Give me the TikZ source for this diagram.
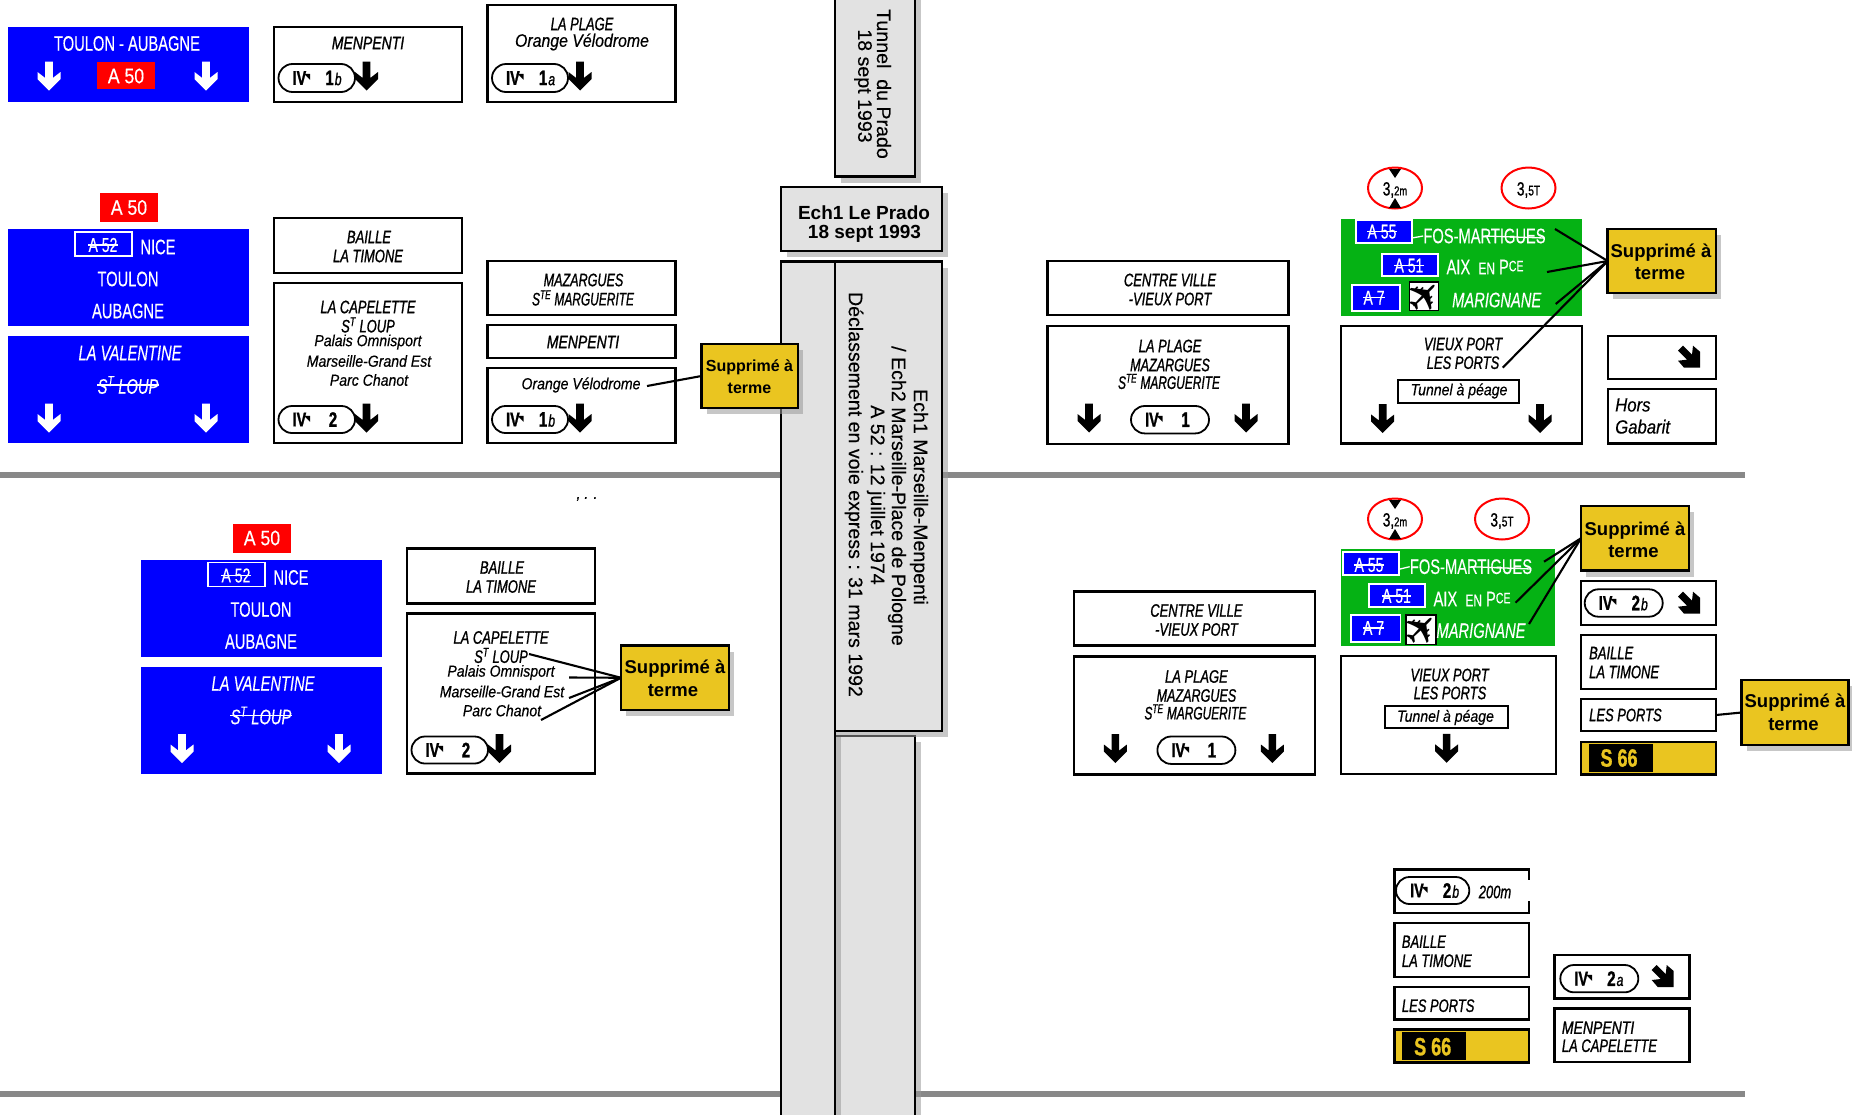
\documentclass[tikz,border=0pt]{standalone}
\usepackage{fontspec}
\usepackage{graphicx}
\usetikzlibrary{shapes.misc,shapes.geometric,shadows}
\setmainfont{Liberation Sans}
\newfontfamily\sgfont[FakeStretch=.70,FakeBold=.3]{Liberation Sans}
\newfontfamily\sgifont[FakeStretch=.72,FakeBold=1]{Liberation Sans}
\newfontfamily\sgmfont[FakeStretch=.88,FakeBold=.4]{Liberation Sans}
\newfontfamily\colfont[FakeBold=.25]{Liberation Sans}
\newfontfamily\djv{DejaVu Sans}
\definecolor{sblue}{HTML}{0000FF}
\definecolor{sred}{HTML}{FF0000}
\definecolor{sgreen}{HTML}{05B214}
\definecolor{syel}{HTML}{EAC520}
\definecolor{cgray}{HTML}{E2E2E2}
\definecolor{hline}{HTML}{888888}
\tikzset{
 sgbox/.style={draw=black,line width=2.4pt,fill=white,inner sep=0pt,outer sep=0pt},
 bluebox/.style={fill=sblue,inner sep=0pt,outer sep=0pt},
 redbox/.style={fill=sred,inner sep=0pt,outer sep=0pt},
 greenbox/.style={fill=sgreen,inner sep=0pt,outer sep=0pt},
 wbox/.style={draw=white,line width=1.8pt,fill=sblue,inner sep=0pt,outer sep=0pt},
 planebox/.style={draw=black,line width=1.5pt,fill=white,inner sep=0pt,outer sep=0pt,text=black},
 yelbox/.style={draw=black,line width=2.4pt,fill=syel,inner sep=0pt,outer sep=0pt},
 blackbox/.style={fill=black,inner sep=0pt,outer sep=0pt},
 notebox/.style={draw=black,line width=2.6pt,fill=syel,inner sep=0pt,outer sep=0pt,
   drop shadow={shadow xshift=5pt,shadow yshift=-6pt,fill=black!40,opacity=.55}},
 colbox/.style={draw=black,line width=2.6pt,fill=cgray,inner sep=0pt,outer sep=0pt,
   drop shadow={shadow xshift=6pt,shadow yshift=-6pt,fill=black!40,opacity=.55}},
 ovalbox/.style={rounded rectangle,draw=black,line width=1.8pt,fill=white,inner sep=0pt,outer sep=0pt},
 limit/.style={ellipse,draw=sred,line width=2pt,fill=white,inner sep=0pt,outer sep=0pt,minimum width=54pt,minimum height=41pt},
 ww/.style={inner sep=0pt,text=white,font=\sgfont\fontsize{21}{21}\selectfont},
 wwi/.style={inner sep=0pt,text=white,font=\sgfont\itshape\fontsize{21}{21}\selectfont},
 wsm/.style={inner sep=0pt,text=white,font=\sgfont\fontsize{20}{20}\selectfont},
 ki/.style={inner sep=0pt,text=black,font=\sgifont\itshape\fontsize{18}{18}\selectfont},
 kim/.style={inner sep=0pt,text=black,font=\sgmfont\itshape\fontsize{16}{16}\selectfont},
 kil/.style={inner sep=0pt,text=black,font=\sgmfont\itshape\fontsize{18}{18}\selectfont},
 khg/.style={inner sep=0pt,text=black,font=\sgmfont\itshape\fontsize{19}{19}\selectfont},
 ktun/.style={inner sep=0pt,text=black,font=\sgmfont\itshape\fontsize{16}{16}\selectfont},
 notetxt/.style={inner sep=0pt,text=black,font=\bfseries\fontsize{18.5}{18.5}\selectfont},
 notesm/.style={inner sep=0pt,text=black,font=\bfseries\fontsize{16}{16}\selectfont},
 coltxt/.style={inner sep=0pt,text=black,font=\colfont\fontsize{19.6}{19.6}\selectfont},
 colbold/.style={inner sep=0pt,text=black,font=\bfseries\fontsize{19}{19}\selectfont},
 ovtxt/.style={inner sep=0pt,text=black,font=\sgifont\fontsize{21}{21}\selectfont},
 limtxt/.style={inner sep=0pt,text=black,font=\sgifont\fontsize{19}{19}\selectfont},
 s66/.style={inner sep=0pt,text=syel,font=\sgifont\bfseries\fontsize{25}{25}\selectfont},
 link/.style={draw=black,line width=2.1pt},
 strike/.style={draw=white,line width=1.3pt},
 hbar/.style={draw=hline,line width=6pt},
}
\newcommand\bx[6][sgbox]{%
 \pgfmathsetmacro\cxv{(#3+#5)/2}\pgfmathsetmacro\cyv{(#4+#6)/2}%
 \pgfmathsetmacro\wv{#5-#3}\pgfmathsetmacro\hv{#6-#4}%
 \node[#1,minimum width=\wv pt,minimum height=\hv pt] (#2) at (\cxv,\cyv) {};}
\newcommand\tx[5][ki]{\node[#1] (#2) at (#3,#4) {#5};}
\newcommand\sarrow[3][black]{\fill[#1,shift={(#2,#3)}] (-3.8,-14.5)--(3.8,-14.5)--(3.8,2)--(11.5,-4)--(11.5,3)--(0,14.5)--(-11.5,3)--(-11.5,-4)--(-3.8,2)--cycle;}
\newcommand\darrow[2]{\fill[black,shift={(#1,#2)}] (-11,-6)--(-6,-11)--(3,-2)--(4,-11)--(11,-5)--(11,11)--(-5,11)--(-11,4)--(-2,3)--cycle;}
\newcommand\exitm{{\fontsize{20}{20}\selectfont\bfseries IV\kern-2pt\raisebox{5pt}{\djv\fontsize{8}{8}\selectfont ◥}}}
\newcommand\wide[1]{\scalebox{1.08}[1]{#1}}
\newcommand\ovl[7]{%
 \bx[ovalbox]{#1}{#2}{#3}{#4}{#5}%
 \node[ovtxt] (#1m) at ([xshift=23pt]#1.west) {\exitm};%
 \node[ovtxt] (#1n) at ([xshift=55pt]#1.west) {{\bfseries #6}\kern1pt{\itshape\fontsize{17}{17}\selectfont #7}};}
\newcommand\leftblock[1]{%
 \bx[redbox]{#1red}{100}{193}{158}{222}\tx[ww]{#1redt}{129}{207.5}{\scalebox{1.2}[1]{A 50}}%
 \bx[bluebox]{#1b2}{8}{229}{249}{326}%
 \bx[wbox]{#1a52}{75}{232}{132}{256}\tx[wsm]{#1a52t}{103}{245}{A 52}%
 \draw[strike] (#1a52t.west)--(#1a52t.east);%
 \tx[ww]{#1nice}{158}{247}{NICE}\tx[ww]{#1toulon}{128}{279}{TOULON}\tx[ww]{#1aub}{128}{311}{AUBAGNE}%
 \bx[bluebox]{#1b3}{8}{336}{249}{443}%
 \tx[wwi]{#1val}{130}{353}{LA VALENTINE}\tx[wwi]{#1lou}{128}{385}{S\textsuperscript{T} LOUP}%
 \draw[strike] (#1lou.west)--(#1lou.east);%
 \sarrow[white]{49}{418}\sarrow[white]{206}{418}%
 \bx{#1bai}{274}{218}{462}{273}\tx{#1bait}{369}{237}{BAILLE}\tx{#1timt}{368}{256}{LA TIMONE}%
 \bx{#1cap}{274}{283}{462}{443}%
 \tx{#1capt}{368}{307}{LA CAPELETTE}\tx{#1lout}{368}{325}{S\textsuperscript{T} LOUP}%
 \tx[kim]{#1pal}{368}{342}{Palais Omnisport}\tx[kim]{#1mar}{369}{361}{Marseille-Grand Est}\tx[kim]{#1par}{369}{380}{Parc Chanot}%
 \ovl{#1ov}{278.5}{406}{355}{433}{2}{}\sarrow{366.5}{418}}
\newcommand\centerblock[1]{%
 \bx{#1cv}{1047.6}{261}{1288.5}{315}\tx{#1cvt}{1170}{280}{CENTRE VILLE}\tx{#1vpt}{1170}{299}{-VIEUX PORT}%
 \bx{#1pl}{1047.6}{326}{1288.5}{444}%
 \tx{#1plt}{1170}{346}{LA PLAGE}\tx{#1mat}{1170}{365}{\scalebox{.97}[1]{MAZARGUES}}\tx{#1mgt}{1169}{381.5}{\scalebox{.92}[1]{S\textsuperscript{TE} MARGUERITE}}%
 \ovl{#1ov}{1131}{406}{1209}{433.4}{1}{}\sarrow{1089}{418}\sarrow{1246}{418}}
\newcommand\limh[4]{%
 \node[limit] (#1) at (#2,#3) {};%
 \node[limtxt] (#1t) at ([yshift=-2pt]#1.center) {{\fontsize{19}{19}\selectfont 3},{\fontsize{#4}{#4}\selectfont 2m}};%
 \fill (#2-6,#3-19)--(#2+6,#3-19)--(#2,#3-10)--cycle;%
 \fill (#2-6,#3+20)--(#2+6,#3+20)--(#2,#3+10)--cycle;}
\newcommand\limitw[3]{%
 \node[limit] (#1) at (#2,#3) {};%
 \node[limtxt] (#1t) at ([yshift=-2pt]#1.center) {{\fontsize{19}{19}\selectfont 3},{\fontsize{14}{14}\selectfont 5T}};}
\begin{document}
\begin{tikzpicture}[x=1pt,y=-1pt]
\useasboundingbox (0,0) rectangle (1852,1114);
\coordinate (h1a) at (0,475);\coordinate (h1b) at (1745,475);
\coordinate (h2a) at (0,1093.5);\coordinate (h2b) at (1745,1093.5);
\draw[hbar] (h1a)--(h1b);
\draw[hbar] (h2a)--(h2b);
\bx[colbox]{tunnel}{835}{-10}{915}{176.5}
\node[coltxt,rotate=-90] (tun1) at (884,84) {Tunnel\ \ du Prado};
\node[coltxt,rotate=-90] (tun2) at (863,86) {18 sept 1993};
\bx[colbox]{prado}{781}{187}{942}{251}
\tx[colbold]{pr1}{864}{212.5}{Ech1 Le Prado}
\tx[colbold]{pr2}{864.5}{234}{18 sept 1993}
\bx[colbox]{lower}{835}{736}{915}{1140}
\bx[colbox]{leftcol}{781}{261.5}{835}{1140}
\bx[colbox]{rightcol}{835}{261.5}{942}{731}
\node[coltxt,rotate=-90] (c1) at (919,497) {Ech1 Marseille-Menpenti};
\node[coltxt,rotate=-90] (c2) at (897,496) {/ Ech2 Marseille-Place de Pologne};
\node[coltxt,rotate=-90] (c3) at (876,495) {A 52 : 12 juillet 1974};
\node[coltxt,rotate=-90] (c4) at (854,494.5) {Déclassement en voie express : 31 mars 1992};
\bx[bluebox]{b1}{8}{27}{249}{102}
\tx[ww]{toul}{127}{43.5}{TOULON - AUBAGNE}
\bx[redbox]{r1}{97}{62}{155}{89}\tx[ww]{r1t}{126}{76}{\scalebox{1.2}[1]{A 50}}
\sarrow[white]{49}{76}\sarrow[white]{206}{76}
\bx{men}{274}{27}{462}{102}\tx{ment}{368}{43}{\wide{MENPENTI}}
\ovl{ov1b}{278.5}{64}{355}{92}{1}{b}\sarrow{366.5}{76}
\bx{pla}{487.5}{5}{675.5}{102}
\tx{plat}{582}{24}{LA PLAGE}\tx[kil]{velo}{582}{42}{Orange Vélodrome}
\ovl{ov1a}{492}{64}{568}{92}{1}{a}\sarrow{580}{76}
\leftblock{u}
\bx{maz}{487.5}{261}{675.5}{315}\tx{mazt}{583.5}{280}{\scalebox{.97}[1]{MAZARGUES}}\tx{mart}{583}{298}{\scalebox{.92}[1]{S\textsuperscript{TE} MARGUERITE}}
\bx{men2}{487.5}{325}{675.5}{358}\tx{men2t}{583}{342}{\wide{MENPENTI}}
\bx{ora}{487.5}{368}{675.5}{443}\tx[kim]{orat}{581}{385}{Orange Vélodrome}
\ovl{ov1c}{492}{406}{568}{433}{1}{b}\sarrow{580}{418}
\bx[notebox]{note1}{701.5}{344}{798}{408}
\tx[notesm]{n1a}{749.5}{367}{Supprimé à}\tx[notesm]{n1b}{749.5}{388}{terme}
\coordinate (e1) at (647,386);
\draw[link] (e1)--(note1.west);
\begin{scope}[shift={(133,330.5)}]
\leftblock{l}
\end{scope}
\tx[kim]{dots}{587}{499}{, . .}
\bx[notebox]{note2}{621}{645.5}{729}{710}
\tx[notetxt]{n2a}{675}{668.5}{Supprimé à}\tx[notetxt]{n2b}{673}{690.5}{terme}
\coordinate (e2a) at (529,654);\coordinate (e2b) at (569,677.5);\coordinate (e2c) at (569,698);\coordinate (e2d) at (541,720);
\foreach \e in {e2a,e2b,e2c,e2d}{\draw[link] (\e)--(note2.west);}
\centerblock{t}
\begin{scope}[shift={(26.4,330.5)}]
\centerblock{d}
\end{scope}
\limh{lh1}{1395}{188}{13}
\limitw{lw1}{1528.5}{188}
\bx[greenbox]{g1}{1341}{219}{1582}{315.7}
\bx[wbox]{a55}{1356}{220.3}{1412}{243}\tx[wsm]{a55t}{1382}{231.7}{A 55}
\draw[strike] (a55t.west)--(a55t.east);
\tx[ww]{fos}{1484.5}{236}{FOS-MARTIGUES}
\coordinate (fs1) at (1412,238);\coordinate (fs2) at (1544,238);
\draw[strike] (fs1)--(fos.west);\draw[strike] (fos.center)--(fs2);
\bx[wbox]{a51}{1382}{253.7}{1438}{276}\tx[wsm]{a51t}{1409}{265.7}{A 51}
\draw[strike] (a51t.west)--(a51t.east);
\tx[ww]{aix}{1485}{267}{AIX\ \ {\fontsize{17}{17}\selectfont EN} P{\fontsize{15}{15}\selectfont\raisebox{3pt}{CE}}}
\bx[wbox]{a7}{1351.7}{285}{1400}{310.7}\tx[wsm]{a7t}{1374}{297.7}{A 7}
\draw[strike] (a7t.west)--(a7t.east);
\bx[planebox]{pb1}{1409.5}{282}{1438.5}{310.5}
\node[inner sep=0pt,font=\djv\fontsize{42}{42}\selectfont,rotate=45] (pl1) at (pb1.center) {✈};
\tx[wwi]{mg1}{1496.7}{300}{MARIGNANE}
\bx{vp1}{1341}{325.7}{1582}{443.3}
\tx{vp1a}{1463}{344}{VIEUX PORT}\tx{vp1b}{1463}{362.7}{LES PORTS}
\bx[sgbox,line width=1.8pt]{tp1}{1398}{380}{1519}{402.7}\tx[ktun]{tp1t}{1459}{391}{Tunnel à péage}
\sarrow{1382.7}{418.5}\sarrow{1540}{418.5}
\bx[notebox]{note3}{1607.7}{229}{1716}{293}
\tx[notetxt]{n3a}{1661}{252.5}{Supprimé à}\tx[notetxt]{n3b}{1660}{274}{terme}
\coordinate (e3a) at (1555,229);\coordinate (e3b) at (1547,272);\coordinate (e3c) at (1555.7,304);\coordinate (e3d) at (1502.7,367.7);
\foreach \e in {e3a,e3b,e3c,e3d}{\draw[link] (\e)--(note3.west);}
\bx{dir1}{1607.7}{336}{1716}{379}\darrow{1689}{356.7}
\bx{hg}{1607.7}{389}{1716}{443.3}
\tx[khg,anchor=west]{hg1}{1615}{405}{Hors}\tx[khg,anchor=west]{hg2}{1615}{426.7}{Gabarit}
\limh{lh2}{1395}{519}{13}
\limitw{lw2}{1502}{519}
\bx[greenbox]{g2}{1341}{549}{1555}{645.7}
\bx[wbox]{b55}{1343}{552}{1399}{574.7}\tx[wsm]{b55t}{1369}{565}{A 55}
\draw[strike] (b55t.west)--(b55t.east);
\tx[ww]{fos2}{1471}{566.7}{FOS-MARTIGUES}
\coordinate (gs1) at (1400,569);\coordinate (gs2) at (1531,569);
\draw[strike] (gs1)--(fos2.west);\draw[strike] (fos2.center)--(gs2);
\bx[wbox]{b51}{1369}{584}{1425}{607}\tx[wsm]{b51t}{1396.5}{596}{A 51}
\draw[strike] (b51t.west)--(b51t.east);
\tx[ww]{aix2}{1472}{599}{AIX\ \ {\fontsize{17}{17}\selectfont EN} P{\fontsize{15}{15}\selectfont\raisebox{3pt}{CE}}}
\bx[wbox]{b7}{1351}{615}{1400.4}{641.7}\tx[wsm]{b7t}{1373.6}{628}{A 7}
\draw[strike] (b7t.west)--(b7t.east);
\bx[planebox]{pb2}{1406}{615}{1436}{644.5}
\node[inner sep=0pt,font=\djv\fontsize{42}{42}\selectfont,rotate=45] (pl2) at (pb2.center) {✈};
\tx[wwi]{mg2}{1481}{630.7}{MARIGNANE}
\bx{vp2}{1341}{656}{1556}{774}
\tx{vp2a}{1449.6}{675}{VIEUX PORT}\tx{vp2b}{1450}{693}{LES PORTS}
\bx[sgbox,line width=1.8pt]{tp2}{1385}{706}{1508}{728}\tx[ktun]{tp2t}{1445.5}{717.5}{Tunnel à péage}
\sarrow{1446.6}{748.3}
\bx[notebox]{note4}{1581}{506}{1689}{570.5}
\tx[notetxt]{n4a}{1635}{531}{Supprimé à}\tx[notetxt]{n4b}{1633.5}{552}{terme}
\coordinate (e4a) at (1544,561.7);\coordinate (e4b) at (1515.5,602.7);\coordinate (e4c) at (1529,624);
\foreach \e in {e4a,e4b,e4c}{\draw[link] (\e)--(note4.west);}
\bx{dir2}{1581}{581}{1716}{625}
\ovl{ov2b}{1584.7}{589.3}{1662.7}{616.7}{2}{b}\darrow{1689}{602.7}
\bx{bl2}{1581}{635}{1716}{689}
\tx[ki,anchor=west]{bl2a}{1589}{653}{BAILLE}\tx[ki,anchor=west]{bl2b}{1589}{672}{LA TIMONE}
\bx{lp2}{1581}{699}{1716}{731}\tx[ki,anchor=west]{lp2t}{1589}{715}{LES PORTS}
\bx[yelbox]{sb1}{1581}{741.7}{1716}{774.3}
\bx[blackbox]{sb1k}{1589}{744.3}{1652.5}{771.7}\tx[s66]{sb1t}{1619}{758}{S 66}
\bx[notebox]{note5}{1741.5}{680}{1848.7}{745}
\tx[notetxt]{n5a}{1795}{703}{Supprimé à}\tx[notetxt]{n5b}{1793.5}{725}{terme}
\draw[link] (lp2.east)--(note5.west);
\bx{d2b}{1394.3}{869.3}{1529}{912.7}
\coordinate (gapa) at (1529,880);\coordinate (gapb) at (1529,901);
\draw[white,line width=2.6pt] (gapa)--(gapb);
\ovl{ov2c}{1396}{877}{1469.3}{904}{2}{b}
\tx[ki]{m200}{1495}{892}{200m}
\bx{bl3}{1394.3}{922.7}{1529}{976.7}
\tx[ki,anchor=west]{bl3a}{1401.7}{941.7}{BAILLE}\tx[ki,anchor=west]{bl3b}{1401.7}{960.7}{LA TIMONE}
\bx{lp3}{1394.3}{986.7}{1529}{1019.3}\tx[ki,anchor=west]{lp3t}{1401.7}{1005.7}{LES PORTS}
\bx[yelbox]{sb2}{1394.3}{1029.3}{1529}{1062.3}
\bx[blackbox]{sb2k}{1401.7}{1032}{1466}{1060}\tx[s66]{sb2t}{1432.7}{1046.7}{S 66}
\bx{d2a}{1554.3}{955}{1689.3}{998.3}
\ovl{ov2a}{1560.3}{965}{1638.3}{992.3}{2}{a}\darrow{1662.7}{976}
\bx{mc}{1554.3}{1008.3}{1689.3}{1062}
\tx[ki,anchor=west]{mca}{1561.7}{1027.7}{\wide{MENPENTI}}\tx[ki,anchor=west]{mcb}{1561.7}{1045.7}{LA CAPELETTE}
\end{tikzpicture}
\end{document}
